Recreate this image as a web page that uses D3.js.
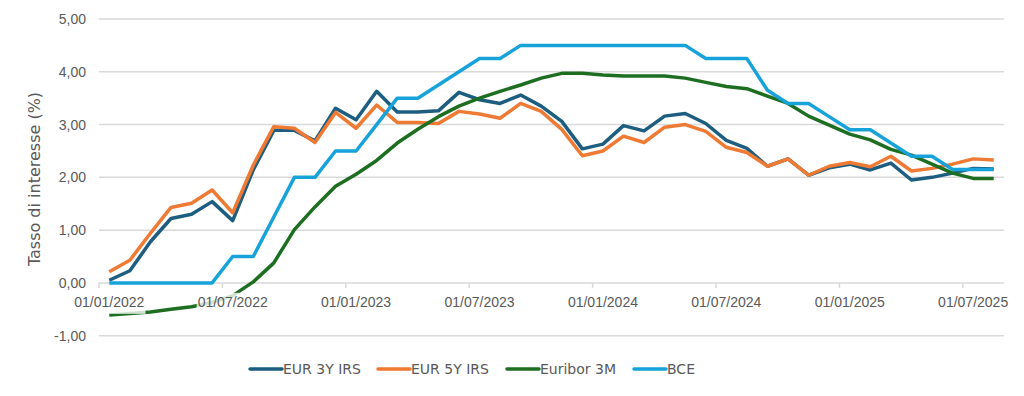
<!DOCTYPE html>
<html>
<head>
<meta charset="utf-8">
<script src="https://cdn.jsdelivr.net/npm/d3@7"></script>
<style>
  body { margin: 0; background: #fff; }
  svg { font-family: "DejaVu Sans", sans-serif; }
  .axis text { fill: #595959; font-size: 14px; }
</style>
</head>
<body>
<svg id="chart" width="1024" height="396"></svg>
<script>
// monthly points, Jan 2022 - Aug 2025
const months = ["2022-01","2022-02","2022-03","2022-04","2022-05","2022-06","2022-07","2022-08","2022-09","2022-10","2022-11","2022-12",
                "2023-01","2023-02","2023-03","2023-04","2023-05","2023-06","2023-07","2023-08","2023-09","2023-10","2023-11","2023-12",
                "2024-01","2024-02","2024-03","2024-04","2024-05","2024-06","2024-07","2024-08","2024-09","2024-10","2024-11","2024-12",
                "2025-01","2025-02","2025-03","2025-04","2025-05","2025-06","2025-07","2025-08"];

const eur3y = [0.05,0.23,0.78,1.22,1.30,1.54,1.18,2.14,2.89,2.89,2.69,3.31,
               3.09,3.63,3.24,3.24,3.26,3.61,3.47,3.40,3.56,3.35,3.06,2.54,
               2.63,2.98,2.88,3.16,3.21,3.02,2.70,2.55,2.21,2.35,2.04,2.18,
               2.25,2.14,2.27,1.95,2.00,2.08,2.17,2.16];

const eur5y = [0.21,0.43,0.94,1.43,1.51,1.76,1.33,2.23,2.96,2.93,2.66,3.23,
               2.93,3.37,3.04,3.04,3.02,3.25,3.20,3.12,3.40,3.25,2.91,2.41,
               2.50,2.78,2.66,2.95,3.00,2.87,2.57,2.47,2.21,2.35,2.04,2.21,
               2.28,2.20,2.40,2.12,2.17,2.25,2.35,2.33];

const euribor3m = [-0.61,-0.58,-0.55,-0.50,-0.45,-0.37,-0.24,0.02,0.38,1.01,1.44,1.83,
                   2.06,2.32,2.65,2.91,3.15,3.35,3.50,3.63,3.75,3.88,3.97,3.97,
                   3.94,3.92,3.92,3.92,3.88,3.80,3.72,3.68,3.54,3.40,3.16,2.99,
                   2.82,2.71,2.53,2.42,2.25,2.08,1.98,1.98];

const bce = [0,0,0,0,0,0,0.50,0.50,1.25,2.00,2.00,2.50,
             2.50,3.00,3.50,3.50,3.75,4.00,4.25,4.25,4.50,4.50,4.50,4.50,
             4.50,4.50,4.50,4.50,4.50,4.25,4.25,4.25,3.65,3.40,3.40,3.15,
             2.90,2.90,2.65,2.40,2.40,2.15,2.15,2.15];

const seriesNames  = ["EUR 3Y IRS","EUR 5Y IRS","Euribor 3M","BCE"];
const seriesColors = ["#1d5d80","#ee7a34","#1e6e22","#17a3da"];
const yTicks       = [-1,0,1,2,3,4,5];
const xTickMonths  = ["2022-01","2022-07","2023-01","2023-07","2024-01","2024-07","2025-01","2025-07"];
const xTickLabels  = ["01/01/2022","01/07/2022","01/01/2023","01/07/2023","01/01/2024","01/07/2024","01/01/2025","01/07/2025"];

const svg = d3.select("#chart"),
      plotLeft = 99, plotRight = 1004, plotTop = 19, plotBottom = 335.7;

const x = d3.scaleBand().domain(months).range([plotLeft, plotRight]).padding(0),
      y = d3.scaleLinear().domain([-1, 5]).range([plotBottom, plotTop]),
      bw = x.bandwidth();

// gridlines
svg.append("g")
  .selectAll("line")
  .data(yTicks)
  .enter().append("line")
    .attr("x1", plotLeft)
    .attr("x2", plotRight)
    .attr("y1", d => y(d))
    .attr("y2", d => y(d))
    .attr("stroke", "#d9d9d9")
    .attr("stroke-width", 1.5);

// y axis labels
const yAxis = svg.append("g")
    .attr("class", "axis")
    .attr("transform", `translate(${plotLeft - 13},0)`)
    .call(d3.axisLeft(y).tickValues(yTicks).tickSize(0)
      .tickFormat(d => d.toFixed(2).replace(".", ",")));
yAxis.select(".domain").remove();
yAxis.selectAll("text").attr("x", 0);

// y axis title
svg.append("text")
    .attr("transform", `translate(40,179) rotate(-90)`)
    .attr("text-anchor", "middle")
    .style("font-size", "16px")
    .style("fill", "#595959")
    .text("Tasso di interesse (%)");

// lines
const allSeries = [eur3y, eur5y, euribor3m, bce];
const line = d3.line()
    .x((d, i) => x(months[i]) + bw / 2)
    .y(d => y(d));

svg.append("g")
  .selectAll("path")
  .data(allSeries)
  .enter().append("path")
    .attr("d", line)
    .attr("fill", "none")
    .attr("stroke", (d, i) => seriesColors[i])
    .attr("stroke-width", 3.5)
    .attr("stroke-linejoin", "round");

// x axis sits on the zero line, ticks at month boundaries; labels over the lines
const xAxis = svg.append("g")
    .attr("class", "axis")
    .attr("transform", `translate(0,${y(0)})`)
    .call(d3.axisBottom(x).tickValues(xTickMonths).tickSize(5).tickPadding(9)
      .tickFormat((d, i) => xTickLabels[i]));
xAxis.select(".domain").remove();
xAxis.selectAll(".tick line")
    .attr("x1", -bw / 2)
    .attr("x2", -bw / 2)
    .attr("stroke", "#d9d9d9")
    .attr("stroke-width", 1.5);

// half-transparent box behind each date label
xAxis.selectAll(".tick").each(function() {
  const t = d3.select(this).select("text"),
        b = t.node().getBBox();
  d3.select(this).insert("rect", "text")
      .attr("x", b.x - 1)
      .attr("y", b.y - 1)
      .attr("width", b.width + 2)
      .attr("height", b.height + 5)
      .attr("fill", "#fff")
      .attr("opacity", 0.8);
});

// legend
const legendX = [250, 378, 507, 634];
const legend = svg.append("g")
  .selectAll("g")
  .data(seriesNames)
  .enter().append("g")
    .attr("transform", (d, i) => `translate(${legendX[i]},369)`);

legend.append("line")
    .attr("x1", 0)
    .attr("x2", 32)
    .attr("stroke", (d, i) => seriesColors[i])
    .attr("stroke-width", 3.5)
    .attr("stroke-linecap", "round");

legend.append("text")
    .attr("x", 33)
    .attr("dy", "0.35em")
    .style("font-size", "14px")
    .style("fill", "#595959")
    .text(d => d);
</script>
</body>
</html>
